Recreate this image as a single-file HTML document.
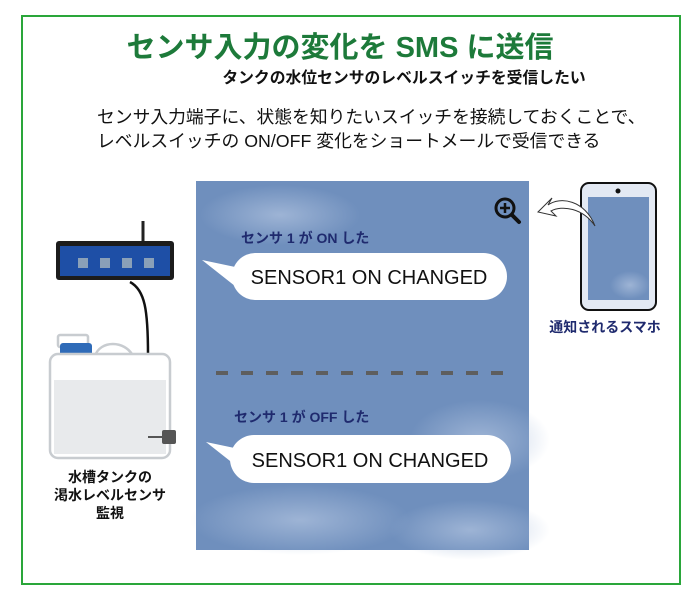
<!DOCTYPE html>
<html><head><meta charset="utf-8"><style>
html,body{margin:0;padding:0;background:#fff;}
svg text{font-family:"Liberation Sans","Noto Sans CJK JP",sans-serif;}
</style></head><body>
<svg width="700" height="600" viewBox="0 0 700 600" xmlns="http://www.w3.org/2000/svg">
<defs>
<radialGradient id="cl" cx="0.5" cy="0.5" r="0.5"><stop offset="0" stop-color="#a9bddb" stop-opacity="0.8"/><stop offset="1" stop-color="#a9bddb" stop-opacity="0"/></radialGradient>
</defs>
<rect x="22" y="16" width="658" height="568" fill="#fff" stroke="#2aa63a" stroke-width="2"/>
<text x="340" y="57" text-anchor="middle" font-size="29" font-weight="bold" fill="#1d7a3a">センサ入力の変化を SMS に送信</text>
<text x="404" y="83" text-anchor="middle" font-size="15.8" font-weight="bold" fill="#111">タンクの水位センサのレベルスイッチを受信したい</text>
<text x="97" y="123" font-size="17.8" fill="#111">センサ入力端子に、状態を知りたいスイッチを接続しておくことで、</text>
<text x="97" y="147" font-size="17.8" fill="#111">レベルスイッチの ON/OFF 変化をショートメールで受信できる</text>
<rect x="196" y="181" width="333" height="369" fill="#6f8fbd"/>
<ellipse cx="280" cy="215" rx="80" ry="30" fill="url(#cl)"/>
<ellipse cx="480" cy="440" rx="70" ry="40" fill="url(#cl)"/>
<ellipse cx="300" cy="520" rx="110" ry="35" fill="url(#cl)"/>
<ellipse cx="470" cy="530" rx="80" ry="30" fill="url(#cl)"/>
<circle cx="505" cy="208" r="9" fill="none" stroke="#111" stroke-width="3"/>
<line x1="512" y1="215" x2="519" y2="222" stroke="#111" stroke-width="4" stroke-linecap="round"/>
<path d="M505 203v10M500 208h10" stroke="#111" stroke-width="2.5"/>
<text x="241" y="243" font-size="14" font-weight="bold" fill="#1f2a6e">センサ 1 が ON した</text>
<path d="M202 260 L240 268 L240 290 Z" fill="#fff"/>
<rect x="232" y="253" width="275" height="47" rx="23.5" fill="#fff"/>
<text x="369" y="284" text-anchor="middle" font-size="20" fill="#111">SENSOR1 ON CHANGED</text>
<line x1="216" y1="373" x2="515" y2="373" stroke="#5e5e5e" stroke-width="4" stroke-dasharray="12 13"/>
<text x="234" y="422" font-size="14" font-weight="bold" fill="#1f2a6e">センサ 1 が OFF した</text>
<path d="M206 442 L244 450 L244 472 Z" fill="#fff"/>
<rect x="230" y="435" width="281" height="48" rx="24" fill="#fff"/>
<text x="370" y="467" text-anchor="middle" font-size="20" fill="#111">SENSOR1 ON CHANGED</text>
<rect x="581" y="183" width="75" height="127" rx="8" fill="#e3e9f3" stroke="#111" stroke-width="2"/>
<rect x="588" y="197" width="61" height="103" fill="#6f8fbd"/>
<ellipse cx="630" cy="285" rx="20" ry="14" fill="url(#cl)"/>
<circle cx="618" cy="191" r="2.5" fill="#111"/>
<path d="M595 226 C585 200 560 196 548 205 L552 198 L538 212 L556 216 L551 211 C562 205 583 208 595 226 Z" fill="#fff" stroke="#333" stroke-width="1"/>
<text x="605" y="332" text-anchor="middle" font-size="14" font-weight="bold" fill="#1f2a6e">通知されるスマホ</text>
<line x1="143" y1="243" x2="143" y2="221" stroke="#222" stroke-width="3"/>
<rect x="56" y="241" width="118" height="39" rx="3" fill="#1c1c1c"/>
<rect x="60" y="246" width="110" height="30" fill="#1e4fa6"/>
<rect x="78" y="258" width="10" height="10" fill="#8aa0b8"/>
<rect x="100" y="258" width="10" height="10" fill="#8aa0b8"/>
<rect x="122" y="258" width="10" height="10" fill="#8aa0b8"/>
<rect x="144" y="258" width="10" height="10" fill="#8aa0b8"/>
<path d="M130 282 C145 290 148 310 148 355" fill="none" stroke="#111" stroke-width="2.5"/>
<rect x="58" y="335" width="30" height="12" rx="2" fill="#fff" stroke="#c8ccd0" stroke-width="2.5"/>
<rect x="60" y="343" width="32" height="14" rx="3" fill="#2f6bb8"/>
<path d="M95 356 C100 340 125 340 133 356" fill="none" stroke="#c8ccd0" stroke-width="2.5"/>
<rect x="50" y="354" width="120" height="104" rx="8" fill="#fff" stroke="#c8ccd0" stroke-width="2.5"/>
<rect x="54" y="380" width="112" height="74" fill="#e8eaec"/>
<line x1="148" y1="437" x2="163" y2="437" stroke="#555" stroke-width="2"/>
<rect x="162" y="430" width="14" height="14" rx="2" fill="#555"/>
<text x="110" y="482" text-anchor="middle" font-size="14" font-weight="bold" fill="#111">水槽タンクの</text>
<text x="110" y="500" text-anchor="middle" font-size="14" font-weight="bold" fill="#111">渇水レベルセンサ</text>
<text x="110" y="518" text-anchor="middle" font-size="14" font-weight="bold" fill="#111">監視</text>
</svg>
</body></html>
